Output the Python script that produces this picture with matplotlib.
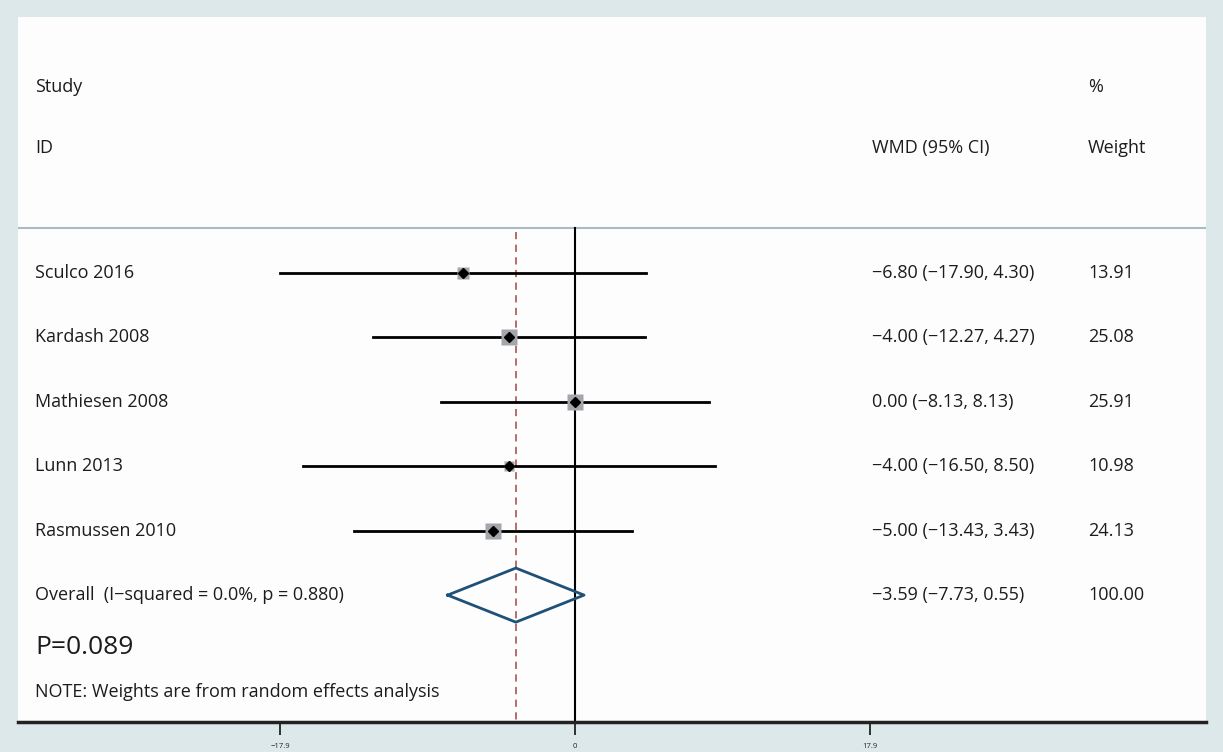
import matplotlib.pyplot as plt
import matplotlib.transforms as mtransforms

# 研究数据
studies = ['Sculco 2016', 'Kardash 2008', 'Mathiesen 2008', 'Lunn 2013', 'Rasmussen 2010']
wmd = [-6.80, -4.00, 0.00, -4.00, -5.00]
ci_low = [-17.90, -12.27, -8.13, -16.50, -13.43]
ci_high = [4.30, 4.27, 8.13, 8.50, 3.43]
weights = [13.91, 25.08, 25.91, 10.98, 24.13]

overall_label = 'Overall  (I\u2212squared = 0.0%, p = 0.880)'
overall = -3.59
overall_low = -7.73
overall_high = 0.55
overall_weight = 100.00

xticks = [-17.9, 0, 17.9]

def fmt(v):
    return f'{v:.2f}'.replace('-', '\u2212')

plt.rcParams['font.family'] = ['Open Sans', 'DejaVu Sans']
txt_color = '#1c1c1c'
fs = 13

fig = plt.figure(figsize=(12.23, 7.52), dpi=100, facecolor='#dde8ea')
ax = fig.add_axes([18 / 1223, 1 - 722 / 752, 1188 / 1223, 705 / 752])
ax.set_facecolor('#fdfdfe')
ax.set_xlim(-33.8, 38.29)
ax.set_ylim(6.97, -3.975)

# x 用轴比例, y 用数据坐标
trans = mtransforms.blended_transform_factory(ax.transAxes, ax.transData)

# 表头
ax.text(0.0143, -2.89, 'Study', transform=trans, fontsize=fs, va='center', color=txt_color)
ax.text(0.0143, -1.94, 'ID', transform=trans, fontsize=fs, va='center', color=txt_color)
ax.text(0.719, -1.94, 'WMD (95% CI)', transform=trans, fontsize=fs, va='center', color=txt_color)
ax.text(0.9007, -2.89, '%', transform=trans, fontsize=fs, va='center', color=txt_color)
ax.text(0.9007, -1.94, 'Weight', transform=trans, fontsize=fs, va='center', color=txt_color)
ax.axhline(-0.70, color='#a9bcc4', lw=1.5)

# 零线和合并效应虚线
ax.plot([0, 0], [-0.70, 6.97], color='black', lw=1.5, zorder=2)
ax.plot([overall, overall], [-0.64, 6.97], color='#b06060', lw=1.3, ls=(0, (4, 3)), zorder=2)

for i, name in enumerate(studies):
    ax.plot([ci_low[i], ci_high[i]], [i, i], color='black', lw=2, zorder=3)
    ax.plot(wmd[i], i, marker='s', ms=weights[i] ** 0.5 * 2.3, color='#a3a7ab', mec='none', zorder=3.5)
    ax.plot(wmd[i], i, marker='D', ms=5, color='black', zorder=4)
    ax.text(0.0143, i, name, transform=trans, fontsize=fs, va='center', color=txt_color)
    ax.text(0.719, i, f'{fmt(wmd[i])} ({fmt(ci_low[i])}, {fmt(ci_high[i])})',
            transform=trans, fontsize=fs, va='center', color=txt_color)
    ax.text(0.9007, i, fmt(weights[i]), transform=trans, fontsize=fs, va='center', color=txt_color)

# 合并效应菱形
n = len(studies)
ax.plot([overall_low, overall, overall_high, overall, overall_low],
        [n, n - 0.42, n, n + 0.42, n], color='#1f5078', lw=2, zorder=5)
ax.text(0.0143, n, overall_label, transform=trans, fontsize=fs, va='center', color=txt_color)
ax.text(0.719, n, f'{fmt(overall)} ({fmt(overall_low)}, {fmt(overall_high)})',
        transform=trans, fontsize=fs, va='center', color=txt_color)
ax.text(0.9007, n, f'{overall_weight:.2f}', transform=trans, fontsize=fs, va='center', color=txt_color)

ax.text(0.0143, 5.82, 'P=0.089', transform=trans, fontsize=19, va='center', color=txt_color)
ax.text(0.0143, 6.5, 'NOTE: Weights are from random effects analysis', transform=trans,
        fontsize=fs, va='center', color=txt_color)

for s in ['top', 'left', 'right']:
    ax.spines[s].set_visible(False)
ax.spines['bottom'].set_linewidth(2.5)
ax.spines['bottom'].set_color('#222222')
ax.set_yticks([])
ax.set_xticks(xticks)
ax.set_xticklabels([str(t).replace('-', '\u2212') for t in xticks])
ax.tick_params(axis='x', direction='out', length=9, width=1.3, labelsize=5.5, pad=6, colors='#222222')

fig.savefig('out.png', dpi=100, facecolor=fig.get_facecolor())
